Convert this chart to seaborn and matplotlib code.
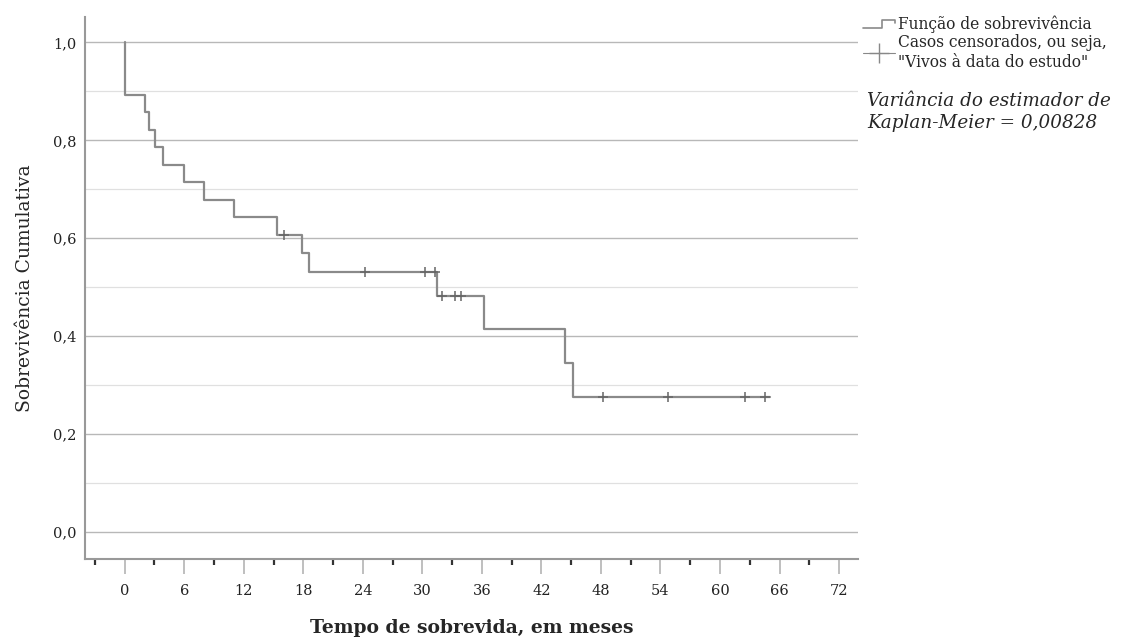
import numpy as np
import pandas as pd
import matplotlib
matplotlib.use('Agg')
import matplotlib.pyplot as plt
import seaborn as sns
from matplotlib.lines import Line2D
from matplotlib.legend_handler import HandlerBase

# Kaplan-Meier curve (months, cumulative survival)
step_times = [0, 0, 2.0, 2.4, 3.1, 3.9, 6.0, 8.0, 11.0, 15.3, 17.9, 18.6, 31.5, 36.2, 44.4, 45.2, 65.0]
step_surv = [1.0, 0.893, 0.857, 0.821, 0.786, 0.750, 0.714, 0.679, 0.643, 0.607, 0.569, 0.531,
             0.483, 0.414, 0.345, 0.276, 0.276]

# censored cases ("vivos à data do estudo")
censor_times = [16.1, 24.2, 30.3, 31.3, 32.0, 33.3, 33.9, 48.2, 54.8, 62.5, 64.5]
censor_surv = [0.607, 0.531, 0.531, 0.531, 0.483, 0.483, 0.483, 0.276, 0.276, 0.276, 0.276]

x_ticks = list(range(0, 73, 6))
x_minor = list(range(-3, 72, 6))
y_ticks = [0.0, 0.2, 0.4, 0.6, 0.8, 1.0]
y_labels = ['0,0', '0,2', '0,4', '0,6', '0,8', '1,0']
y_minor = [0.1, 0.3, 0.5, 0.7, 0.9]

sns.set_style('white')
plt.rcParams['font.family'] = ['DejaVu Serif']

curve = pd.DataFrame({'tempo': step_times, 'surv': step_surv})
cens = pd.DataFrame({'tempo': censor_times, 'surv': censor_surv})

fig = plt.figure(figsize=(11.25, 6.37), dpi=100)
ax = fig.add_axes([0.0756, 0.122, 0.687, 0.852])

line_col = '#8a8a8a'
sns.lineplot(data=curve, x='tempo', y='surv', estimator=None, sort=False,
             drawstyle='steps-post', color=line_col, lw=1.6, ax=ax, zorder=3)
sns.scatterplot(data=cens, x='tempo', y='surv', marker='+', s=50, color='#666666',
                linewidth=1.1, ax=ax, zorder=4)

ax.set_xlim(-4, 73.9)
ax.set_ylim(-0.056, 1.053)

ax.set_yticks(y_ticks)
ax.set_yticklabels(y_labels)
ax.set_yticks(y_minor, minor=True)
ax.set_xticks(x_ticks)
ax.set_xticklabels([str(t) for t in x_ticks])
ax.set_xticks(x_minor, minor=True)

ax.grid(which='major', axis='y', color='#b8b8b8', lw=1.0)
ax.grid(which='minor', axis='y', color='#e0e0e0', lw=0.9)
ax.grid(False, axis='x')
ax.set_axisbelow(True)

ax.tick_params(axis='y', which='both', left=False, length=0, labelsize=10.5, pad=6,
               colors='#222222')
ax.tick_params(axis='x', which='major', bottom=True, length=11, width=1.2, color='#b4b4b4',
               labelsize=10.5, pad=7, labelcolor='#222222')
ax.tick_params(axis='x', which='minor', bottom=True, length=4, width=1.6, color='#333333')

for s in ['top', 'right']:
    ax.spines[s].set_visible(False)
for s in ['left', 'bottom']:
    ax.spines[s].set_color('#999999')
    ax.spines[s].set_linewidth(1.5)

ax.set_xlabel('Tempo de sobrevida, em meses', fontsize=13.5, fontweight='bold', labelpad=15)
ax.set_ylabel('Sobrevivência Cumulativa', fontsize=13.5, labelpad=14)


class StepHandler(HandlerBase):
    def create_artists(self, legend, orig_handle, xdescent, ydescent, width, height, fontsize, trans):
        xs = np.array([0, 0.6, 0.6, 1.0, 1.0]) * width - xdescent
        ys = np.array([0.15, 0.15, 0.85, 0.85, 0.55]) * height - ydescent
        ln = Line2D(xs, ys, color=line_col, lw=1.2, transform=trans)
        return [ln]


h_surv = Line2D([], [], color=line_col)
h_cens = Line2D([], [], color='#888888', marker='+', markersize=14, lw=0.8, mew=1.0)
fig.legend([h_surv, h_cens],
           ['Função de sobrevivência', 'Casos censorados, ou seja,\n"Vivos à data do estudo"'],
           handler_map={h_surv: StepHandler()},
           loc='upper left', bbox_to_anchor=(0.762, 0.985), frameon=False,
           fontsize=11.2, handlelength=2.0, handletextpad=0.2, labelspacing=0.05,
           borderaxespad=0)

fig.text(0.771, 0.855, 'Variância do estimador de\nKaplan-Meier = 0,00828',
         fontsize=13.2, style='italic', va='top', ha='left', linespacing=1.25)

fig.savefig('out.png', dpi=100)
